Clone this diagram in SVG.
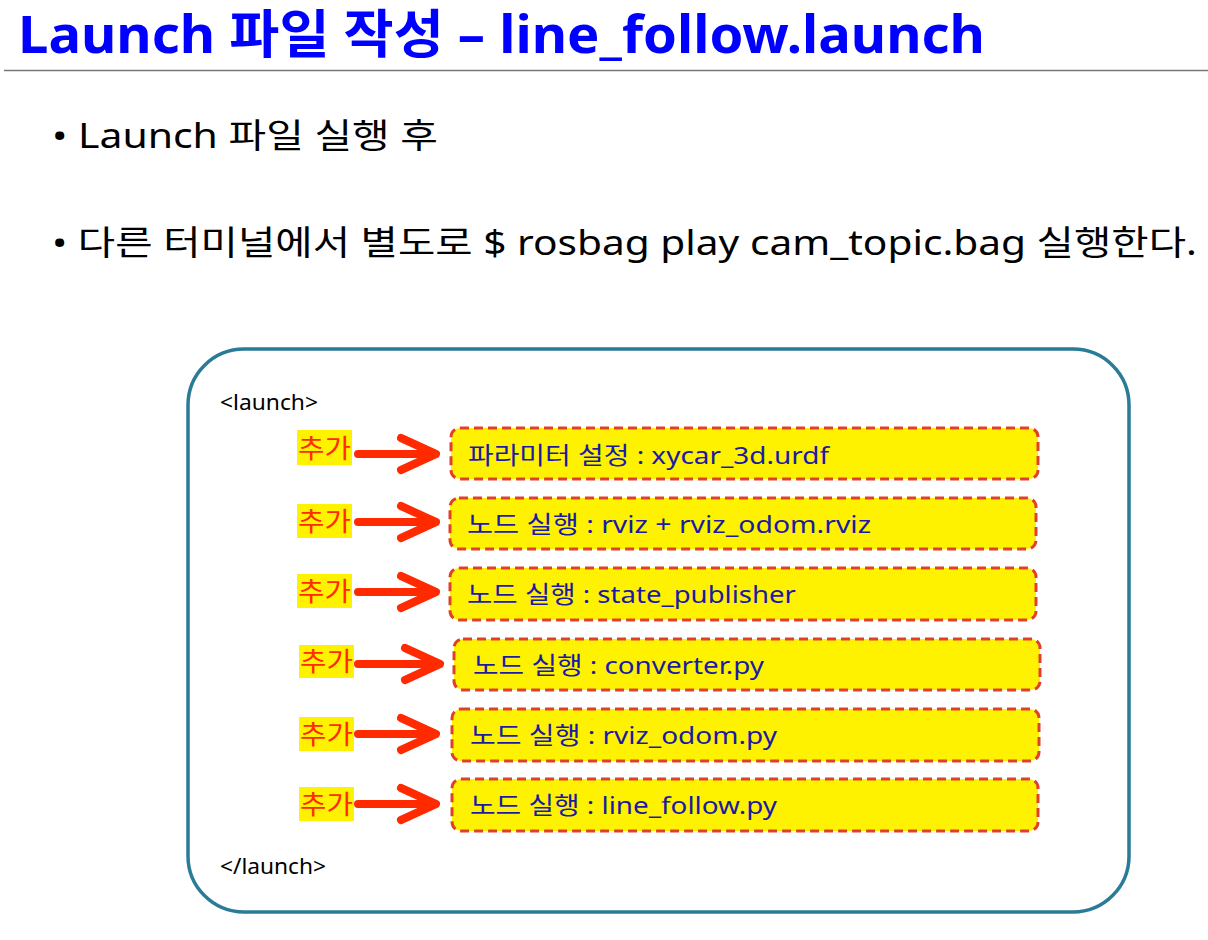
<svg xmlns="http://www.w3.org/2000/svg" width="1208" height="940" viewBox="0 0 1208 940">
<style>
.title{font-family:"Noto Sans","Noto Sans CJK KR",sans-serif;font-weight:bold;font-size:52px;fill:#0000ff}
.bul{font-family:"Noto Sans","Noto Sans CJK KR",sans-serif;font-size:34px;fill:#000}
.tag{font-family:"Noto Sans","Noto Sans CJK KR",sans-serif;font-size:21px;fill:#000}
.box{fill:#fff200;stroke:#e0402a;stroke-width:3;stroke-dasharray:9 5}
.bt{font-family:"Noto Sans","Noto Sans CJK KR",sans-serif;font-size:24px;fill:#1a1aa6}
.addbg{fill:#fff200}
.add{font-family:"Noto Sans CJK KR",sans-serif;font-size:26px;fill:#ff2a00}
.arr{fill:none;stroke:#ff2a00;stroke-width:8;stroke-linecap:round;stroke-linejoin:round}
</style>
<rect width="1208" height="940" fill="#fff"/>
<text class="title" x="18" y="53" textLength="967" lengthAdjust="spacingAndGlyphs">Launch 파일 작성 – line_follow.launch</text>
<line x1="4" y1="70.5" x2="1208" y2="70.5" stroke="#777" stroke-width="1.5"/>
<text class="bul" x="52" y="148" textLength="386" lengthAdjust="spacingAndGlyphs">• Launch 파일 실행 후</text>
<text class="bul" x="52" y="255" textLength="1145" lengthAdjust="spacingAndGlyphs">• 다른 터미널에서 별도로 $ rosbag play cam_topic.bag 실행한다.</text>

<g id="container">
<rect x="188" y="349" width="941" height="563" rx="56" fill="#fff" stroke="#2a7b98" stroke-width="3.5"/>
<text class="tag" x="220" y="410" textLength="98" lengthAdjust="spacingAndGlyphs">&lt;launch&gt;</text>
<text class="tag" x="220" y="874" textLength="106" lengthAdjust="spacingAndGlyphs">&lt;/launch&gt;</text>
</g>

<g id="connectors">
<path class="arr" d="M358 454H432M401 438L436 454L401 470"/>
<path class="arr" d="M358 522H432M401 506L436 522L401 538"/>
<path class="arr" d="M358 592H432M401 576L436 592L401 608"/>
<path class="arr" d="M358 664H436M405 648L440 664L405 680"/>
<path class="arr" d="M358 734H432M401 718L436 734L401 750"/>
<path class="arr" d="M358 804H432M401 788L436 804L401 820"/>
</g>

<g id="add1"><rect class="addbg" x="297" y="430" width="55" height="35"/><text class="add" x="298" y="458" textLength="53" lengthAdjust="spacingAndGlyphs">추가</text></g>
<g id="add2"><rect class="addbg" x="297" y="504" width="55" height="34"/><text class="add" x="298" y="531" textLength="53" lengthAdjust="spacingAndGlyphs">추가</text></g>
<g id="add3"><rect class="addbg" x="297" y="574" width="55" height="34"/><text class="add" x="298" y="601" textLength="53" lengthAdjust="spacingAndGlyphs">추가</text></g>
<g id="add4"><rect class="addbg" x="299" y="645" width="55" height="33"/><text class="add" x="300" y="671" textLength="53" lengthAdjust="spacingAndGlyphs">추가</text></g>
<g id="add5"><rect class="addbg" x="299" y="717" width="55" height="34"/><text class="add" x="300" y="744" textLength="53" lengthAdjust="spacingAndGlyphs">추가</text></g>
<g id="add6"><rect class="addbg" x="299" y="787" width="55" height="34"/><text class="add" x="300" y="814" textLength="53" lengthAdjust="spacingAndGlyphs">추가</text></g>

<g id="node1"><rect class="box" x="451" y="428" width="587" height="51" rx="9"/><text class="bt" x="468" y="464" textLength="361" lengthAdjust="spacingAndGlyphs">파라미터 설정 : xycar_3d.urdf</text></g>
<g id="node2"><rect class="box" x="450" y="498" width="586" height="51" rx="9"/><text class="bt" x="467" y="533" textLength="404" lengthAdjust="spacingAndGlyphs">노드 실행 : rviz + rviz_odom.rviz</text></g>
<g id="node3"><rect class="box" x="450" y="568" width="586" height="52" rx="9"/><text class="bt" x="467" y="603" textLength="329" lengthAdjust="spacingAndGlyphs">노드 실행 : state_publisher</text></g>
<g id="node4"><rect class="box" x="454" y="639" width="586" height="51" rx="9"/><text class="bt" x="473" y="674" textLength="291" lengthAdjust="spacingAndGlyphs">노드 실행 : converter.py</text></g>
<g id="node5"><rect class="box" x="452" y="709" width="587" height="52" rx="9"/><text class="bt" x="470" y="744" textLength="307" lengthAdjust="spacingAndGlyphs">노드 실행 : rviz_odom.py</text></g>
<g id="node6"><rect class="box" x="452" y="779" width="586" height="52" rx="9"/><text class="bt" x="470" y="814" textLength="307" lengthAdjust="spacingAndGlyphs">노드 실행 : line_follow.py</text></g>
</svg>
